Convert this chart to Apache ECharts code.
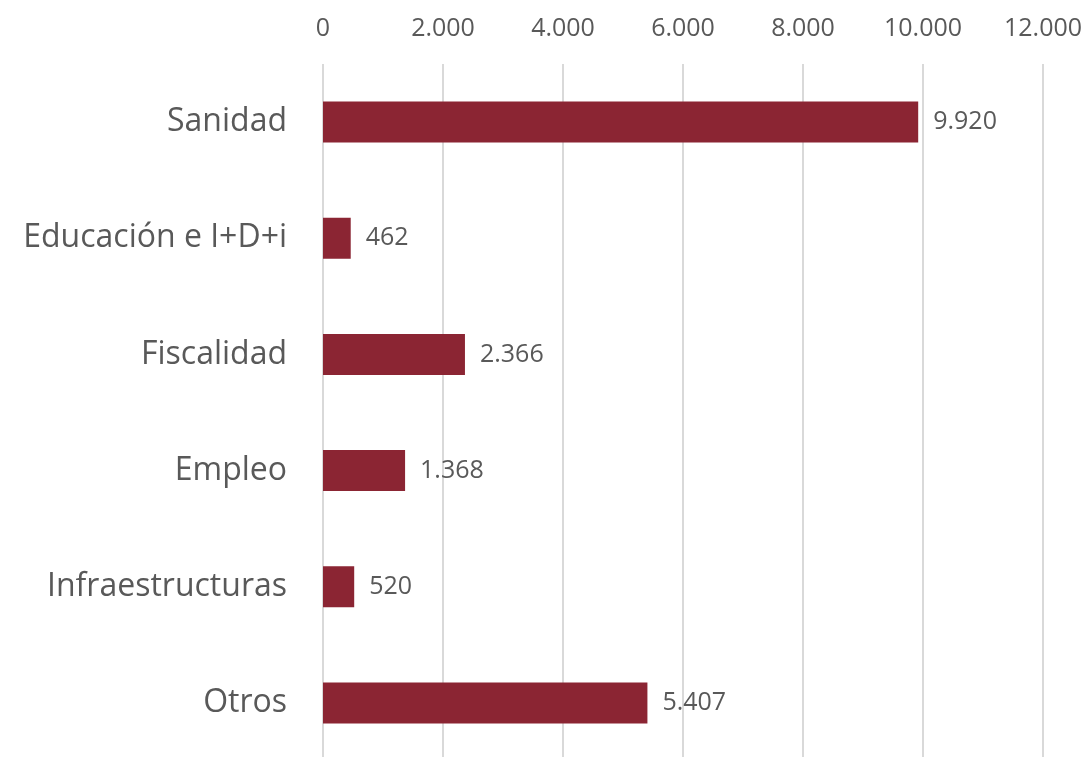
<!DOCTYPE html>
<html>
<head>
<meta charset="utf-8">
<script src="https://cdn.jsdelivr.net/npm/echarts@6/dist/echarts.min.js"></script>
<style>
  html, body { margin: 0; padding: 0; background: #fff; }
  #main { width: 1086px; height: 757px; }
</style>
</head>
<body>
<div id="main"></div>
<script>
// categorías y valores
var categories = ['Sanidad', 'Educación e I+D+i', 'Fiscalidad', 'Empleo', 'Infraestructuras', 'Otros'];
var values = [9920, 462, 2366, 1368, 520, 5407];
var tickLabels = [0, 2000, 4000, 6000, 8000, 10000, 12000];

function fmt(v) {
  return String(v).replace(/\B(?=(\d{3})+(?!\d))/g, '.');
}

var chart = echarts.init(document.getElementById('main'));

var option = {
  backgroundColor: '#ffffff',
  textStyle: { fontFamily: 'Open Sans' },
  grid: {
    left: 323,
    width: 720,
    top: 64,
    height: 697,
    containLabel: false,
    outerBoundsMode: 'none'
  },
  xAxis: {
    type: 'value',
    position: 'top',
    min: tickLabels[0],
    max: tickLabels[tickLabels.length - 1],
    interval: 2000,
    axisLine: { show: false },
    axisTick: { show: false },
    axisLabel: {
      color: '#595959',
      fontSize: 25,
      margin: 23,
      formatter: function (v) { return fmt(v); }
    },
    splitLine: { lineStyle: { color: '#d9d9d9', width: 2 } }
  },
  yAxis: {
    type: 'category',
    inverse: true,
    data: categories,
    axisLine: { show: false },
    axisTick: { show: false },
    axisLabel: {
      color: '#595959',
      fontSize: 32,
      margin: 36
    }
  },
  series: [
    {
      type: 'bar',
      data: values,
      barWidth: 41,
      itemStyle: { color: '#8b2533' },
      label: {
        show: true,
        position: 'right',
        distance: 15,
        color: '#595959',
        fontSize: 25,
        formatter: function (p) { return fmt(p.value); }
      }
    }
  ]
};

chart.setOption(option);
</script>
</body>
</html>
